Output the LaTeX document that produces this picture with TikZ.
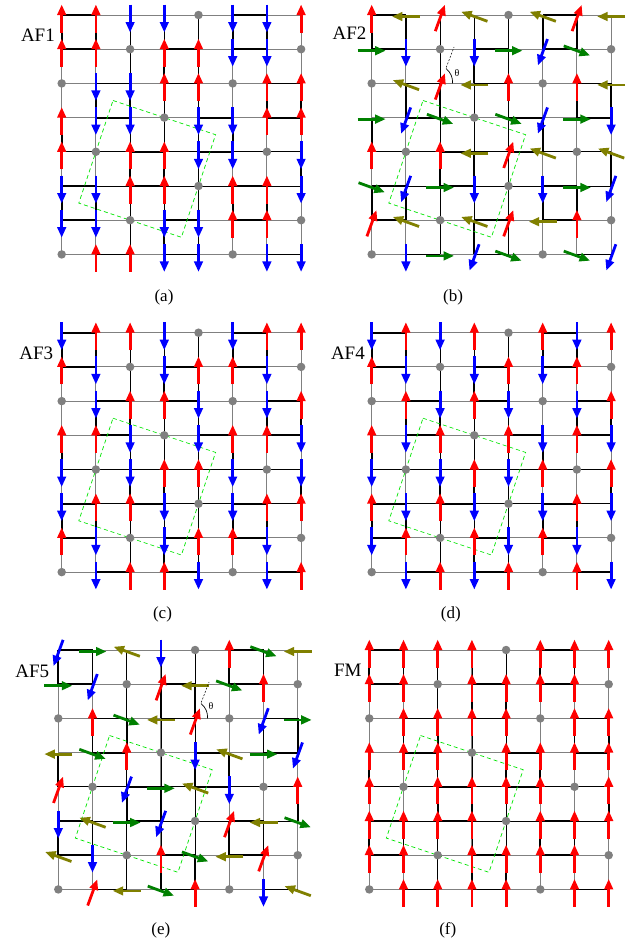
\documentclass[tikz,border=0pt]{standalone}
\usepackage{fontspec}
\setmainfont{Liberation Serif}
\usetikzlibrary{arrows.meta,calc}
\definecolor{spred}{RGB}{255,0,0}
\definecolor{spblue}{RGB}{0,0,255}
\definecolor{spgreen}{RGB}{0,128,0}
\definecolor{spolive}{RGB}{128,128,0}
\definecolor{vacgray}{RGB}{128,128,128}
\definecolor{cellgreen}{RGB}{0,230,0}
\tikzset{
  thinbond/.style={draw=vacgray, line width=0.9pt},
  blackbond/.style={draw=black, line width=0.8pt},
  thickbond/.style={draw=black, line width=1.8pt},
  cellbox/.style={draw=cellgreen, line width=0.7pt, dash pattern=on 4pt off 3pt},
  vacancy/.style={circle, fill=vacgray, minimum size=8.5pt, inner sep=0pt},
  spinarrow/.style={line width=2.8pt, -{Triangle[length=10.5pt,width=8.5pt]}},
  panellabel/.style={font=\fontsize{19}{22}\selectfont, inner sep=0pt, anchor=east},
  captionlab/.style={font=\fontsize{17}{20}\selectfont, inner sep=0pt},
  thetalabel/.style={font=\fontsize{10}{12}\selectfont, inner sep=0pt},
  thetaline/.style={draw=black, line width=0.5pt, dash pattern=on 2pt off 1.5pt},
  thetaarc/.style={draw=black, line width=0.7pt}
}
\def\lsp{34.2}
\def\Vstr{V}
\def\spinU{\def\sang{90}\def\scol{spred}\def\soff{-3.5}}
\def\spinu{\def\sang{70}\def\scol{spred}\def\soff{-3}}
\def\spinD{\def\sang{-90}\def\scol{spblue}\def\soff{-3.5}}
\def\spind{\def\sang{-110}\def\scol{spblue}\def\soff{-3}}
\def\spinE{\def\sang{0}\def\scol{spgreen}\def\soff{-1.5}}
\def\spine{\def\sang{-20}\def\scol{spgreen}\def\soff{-1.5}}
\def\spinW{\def\sang{180}\def\scol{spolive}\def\soff{-1.5}}
\def\spinw{\def\sang{160}\def\scol{spolive}\def\soff{-1.5}}
\newcommand\spinpanel[3]{%
\begin{scope}[shift={#1}]
  \foreach \ri in {0,...,7}{\foreach \ci in {0,...,7}{%
    \coordinate (#2\ri-\ci) at (\ci*\lsp,-\ri*\lsp);}}
  % thin grey bonds
  \foreach \ri in {0,...,7}{\foreach \ci [evaluate=\ci as \cn using int(\ci+1)] in {0,...,6}{%
    \draw[thinbond] (#2\ri-\ci) -- (#2\ri-\cn);}}
  \foreach \ri [evaluate=\ri as \rn using int(\ri+1)] in {0,...,6}{\foreach \ci in {0,...,7}{%
    \draw[thinbond] (#2\ri-\ci) -- (#2\rn-\ci);}}
  % thin black and thick (intra-block) bonds
  \foreach \ri in {0,...,7}{\foreach \ci [evaluate=\ci as \cn using int(\ci+1)] in {0,...,6}{%
    \pgfmathtruncatemacro\mm{mod(\ci+2*\ri,5)}%
    \pgfmathtruncatemacro\tk{(\mm==0)||((\mm==2)&&(\ri>0))}%
    \pgfmathtruncatemacro\bk{(\ri==4)||(\ri==5)}%
    \ifnum\tk=1 \draw[thickbond] (#2\ri-\ci) -- (#2\ri-\cn);%
    \else\ifnum\bk=1 \draw[blackbond] (#2\ri-\ci) -- (#2\ri-\cn);\fi\fi}}
  \foreach \ri [evaluate=\ri as \rn using int(\ri+1)] in {0,...,6}{\foreach \ci in {0,...,7}{%
    \pgfmathtruncatemacro\mm{mod(\ci+2*\ri,5)}%
    \pgfmathtruncatemacro\tk{(\mm==0)||(\mm==1)}%
    \pgfmathtruncatemacro\bk{(\ci==2)||(\ci==3)||(\ci==4)}%
    \ifnum\tk=1 \draw[thickbond] (#2\ri-\ci) -- (#2\rn-\ci);%
    \else\ifnum\bk=1 \draw[blackbond] (#2\ri-\ci) -- (#2\rn-\ci);\fi\fi}}
  % magnetic cell
  \coordinate (#2cA) at (1.5*\lsp,-2.5*\lsp);
  \coordinate (#2cB) at (4.5*\lsp,-3.5*\lsp);
  \coordinate (#2cC) at (3.5*\lsp,-6.5*\lsp);
  \coordinate (#2cD) at (0.5*\lsp,-5.5*\lsp);
  \draw[cellbox] (#2cA) -- (#2cB) -- (#2cC) -- (#2cD) -- cycle;
  % sites
  \foreach \rowlist [count=\ri from 0] in {#3}{%
    \foreach \sv [count=\ci from 0] in \rowlist {%
      \ifx\sv\Vstr
        \node[vacancy] (#2v\ri-\ci) at (#2\ri-\ci) {};
      \else
        \csname spin\sv\endcsname
        \pgfmathsetmacro\sback{\sang+180}%
        \draw[spinarrow,color=\scol] ($(#2\ri-\ci)+(0,\soff)+(\sback:14)$) -- ($(#2\ri-\ci)+(0,\soff)+(\sang:14)$);
      \fi}}
\end{scope}}
\begin{document}
\begin{tikzpicture}[x=1pt,y=1pt]
\useasboundingbox (0,0) rectangle (641,-946);
\fill[white] (0,0) rectangle (641,-946);
% (a) AF1
\spinpanel{(61.7,-15)}{a}{%
{U,U,D,D,V,D,D,U},
{U,U,V,U,U,D,D,V},
{V,D,D,U,U,V,U,U},
{U,D,D,V,D,D,U,U},
{U,V,U,U,D,D,V,D},
{D,D,U,U,V,U,U,D},
{D,D,V,D,D,U,U,V},
{V,U,U,D,D,V,D,D}}
% (b) AF2
\spinpanel{(371.7,-15)}{b}{%
{U,W,u,w,V,w,u,W},
{E,D,V,D,E,d,e,V},
{V,w,u,W,U,V,U,W},
{E,d,e,V,e,d,E,D},
{U,V,U,W,u,w,V,w},
{e,d,E,D,V,D,E,d},
{u,w,V,w,u,W,U,V},
{V,D,E,d,e,V,e,d}}
% (c) AF3
\spinpanel{(61.7,-332.7)}{c}{%
{D,U,U,D,V,D,U,U},
{U,D,V,D,U,U,D,V},
{V,D,U,U,D,V,D,U},
{U,U,D,V,D,U,U,D},
{D,V,D,U,U,D,V,D},
{D,U,U,D,V,D,U,U},
{U,D,V,D,U,U,D,V},
{V,D,U,U,D,V,D,U}}
% (d) AF4
\spinpanel{(371.7,-332.7)}{d}{%
{D,U,D,U,V,U,D,U},
{U,D,V,D,U,D,U,V},
{V,U,D,U,D,V,D,U},
{U,D,U,V,U,D,U,D},
{D,V,D,U,D,U,V,U},
{U,D,U,D,V,D,U,D},
{D,U,V,U,D,U,D,V},
{V,D,U,D,U,V,U,D}}
% (e) AF5
\spinpanel{(58.3,-650)}{e}{%
{d,E,w,D,V,U,e,W},
{E,d,V,u,W,e,U,V},
{V,U,e,W,u,V,d,E},
{W,e,U,V,D,w,E,d},
{u,V,d,E,w,D,V,U},
{D,w,E,d,V,u,W,e},
{w,D,V,U,e,W,u,V},
{V,u,W,e,U,V,D,w}}
% (f) FM
\spinpanel{(369.3,-650)}{f}{%
{U,U,U,U,V,U,U,U},
{U,U,V,U,U,U,U,V},
{V,U,U,U,U,V,U,U},
{U,U,U,V,U,U,U,U},
{U,V,U,U,U,U,V,U},
{U,U,U,U,V,U,U,U},
{U,U,V,U,U,U,U,V},
{V,U,U,U,U,V,U,U}}
% theta annotations
\draw[thetaline] ($(b2-2)+(69:17)$) -- ($(b2-2)+(69:39)$);
\draw[thetaarc] ($(b2-2)+(68:16)$) to[bend left=25] ($(b2-2)+(0:12.5)$);
\node[thetalabel] (thb) at ($(b2-2)+(17,10.5)$) {θ};
\draw[thetaline] ($(e2-4)+(69:17)$) -- ($(e2-4)+(69:39)$);
\draw[thetaarc] ($(e2-4)+(68:16)$) to[bend left=25] ($(e2-4)+(0:12.5)$);
\node[thetalabel] (the) at ($(e2-4)+(16,12)$) {θ};
% labels
\node[panellabel] (la) at (55,-35) {AF1};
\node[panellabel] (lb) at (366.7,-33.3) {AF2};
\node[panellabel] (lc) at (53.3,-353) {AF3};
\node[panellabel] (ld) at (365,-353) {AF4};
\node[panellabel] (le) at (49.3,-671.5) {AF5};
\node[panellabel] (lf) at (361.7,-670) {FM};
% captions
\node[captionlab] (ca) at (164,-297) {(a)};
\node[captionlab] (cb) at (453,-297) {(b)};
\node[captionlab] (cc) at (162.5,-614.5) {(c)};
\node[captionlab] (cd) at (450.8,-614.5) {(d)};
\node[captionlab] (ce) at (160.8,-930) {(e)};
\node[captionlab] (cf) at (447.8,-930) {(f)};
\end{tikzpicture}
\end{document}
